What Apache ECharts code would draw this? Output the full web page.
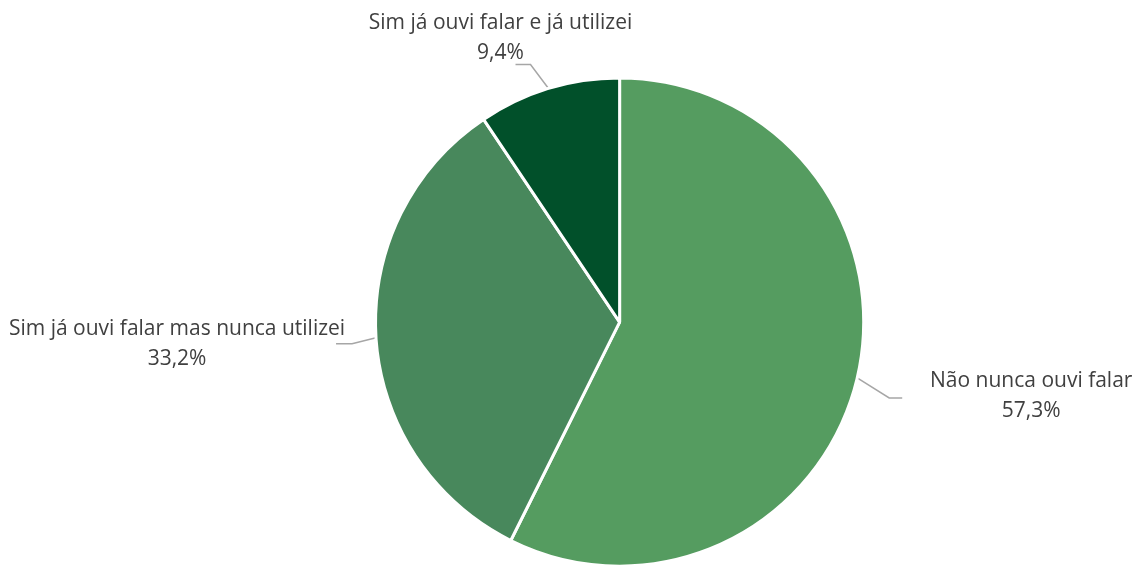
<!DOCTYPE html>
<html><head><meta charset="utf-8">
<script src="https://cdn.jsdelivr.net/npm/echarts@6/dist/echarts.min.js"></script>
<style>html,body{margin:0;padding:0;background:#fff}#c{width:1139px;height:565px}</style>
</head><body><div id="c"></div>
<script>
const categories = ['Não nunca ouvi falar', 'Sim já ouvi falar mas nunca utilizei', 'Sim já ouvi falar e já utilizei'];
const values = [57.3, 33.2, 9.4];
const colors = ['#559c60', '#48885c', '#01502a'];
// leader-line elbow and label offsets (styling only)
const elbow = [[32, 20, 13], [-24, 6, -16], [-18, -24, -15]];
const labelShift = [[129, -2], [-159, 0], [-15, -27]];

const chart = echarts.init(document.getElementById('c'));
chart.setOption({
  animation: false,
  backgroundColor: '#fff',
  series: [{
    type: 'pie',
    startAngle: 90,
    clockwise: true,
    center: ['54.4%', '57%'],
    radius: '86.4%',
    data: categories.map((n, i) => ({ name: n, value: values[i], itemStyle: { color: colors[i] } })),
    itemStyle: { borderColor: '#fff', borderWidth: 3 },
    label: {
      show: true,
      position: 'outside',
      fontFamily: 'Open Sans, Liberation Sans, sans-serif',
      fontSize: 21,
      lineHeight: 30,
      color: '#404040',
      align: 'center',
      overflow: 'none',
      formatter: p => p.name + '\n' + p.value.toFixed(1).replace('.', ',') + '%'
    },
    labelLine: { show: true, length: 28, length2: 15, lineStyle: { color: '#a6a6a6', width: 1.5 } },
    labelLayout: function (params) {
      const pts = params.labelLinePoints;
      if (!pts) return {};
      const e = elbow[params.dataIndex];
      const p0 = pts[0];
      const p1 = [p0[0] + e[0], p0[1] + e[1]];
      const p2 = [p1[0] + e[2], p1[1]];
      const s = labelShift[params.dataIndex];
      return {
        x: p2[0] + s[0],
        y: p2[1] + s[1],
        align: 'center',
        verticalAlign: 'middle',
        labelLinePoints: [p0, p1, p2]
      };
    }
  }]
});
</script></body></html>
